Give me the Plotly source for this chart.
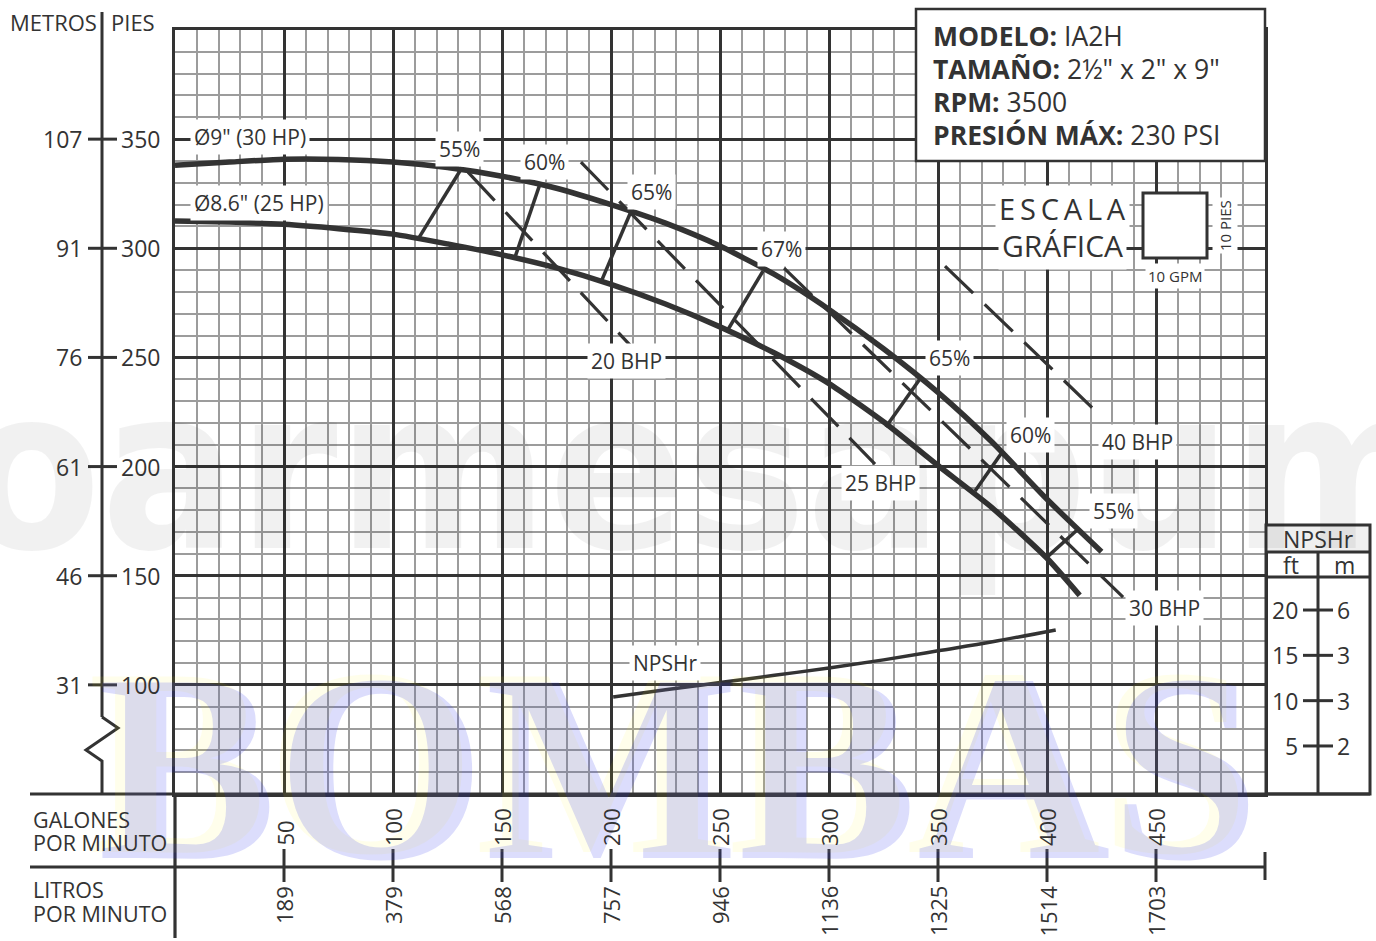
import plotly.graph_objects as go

FONT = "Open Sans, Noto Sans, Arial, sans-serif"
INK = "#333333"

# ---------------- data ----------------
gpm_9 = [0, 25, 50, 75, 100, 125, 150, 175, 200, 225, 250, 275, 300, 325, 350, 375, 400, 425]
head_9 = [338, 339.5, 340.8, 340.7, 339.5, 337, 333, 327.5, 320, 311.5, 301, 288, 272, 254, 234, 211, 185, 161]
gpm_86 = [0, 25, 50, 75, 100, 125, 150, 175, 200, 225, 250, 275, 300, 325, 350, 375, 400, 415]
head_86 = [312.5, 312, 311, 309, 306.5, 302, 297, 291, 283.5, 274.5, 264, 252, 238, 220.5, 200.5, 181, 158, 141]

eff_labels = ["55%", "60%", "65%", "67%", "65%", "60%", "55%"]
eff_q_low = [111.5, 156.0, 195.4, 253.2, 326.1, 367.0, 400.0]
eff_h_low = [304.2, 296.0, 284.5, 262.0, 218.1, 188.8, 158.5]
eff_q_high = [131.7, 167.4, 209.6, 269.7, 341.7, 379.8, 414.2]
eff_h_high = [337.0, 329.4, 317.9, 289.5, 240.1, 207.1, 171.3]
eff_lbl_q = [130.7, 169.7, 218.8, 278.4, 355.5, 392.2, 430.3]
eff_lbl_h = [345.4, 339.5, 325.7, 299.6, 249.7, 214.4, 179.6]

bhp_labels = ["20 BHP", "25 BHP", "30 BHP", "40 BHP"]
bhp_q0 = [134.4, 186.2, 279.4, 353.2]
bhp_h0 = [334.9, 339.5, 290.9, 291.8]
bhp_q1 = [209.6, 321.1, 434.9, 422.9]
bhp_h1 = [254.7, 201.1, 140.2, 224.9]
bhp_lbl_q = [206.9, 323.4, 454.1, 441.7]
bhp_lbl_h = [248.3, 192.4, 135.2, 211.2]

npsh_q = [201, 225, 250, 275, 300, 325, 350, 375, 404]
npsh_ft = [10.4, 11.2, 12.0, 12.8, 13.6, 14.5, 15.5, 16.5, 17.8]
npsh_lbl = ("NPSHr", 224.8, 14.15)

curve_labels = ['Ø9" (30 HP)', 'Ø8.6" (25 HP)']
curve_lbl_q = [7.0, 7.0]
curve_lbl_h = [350.9, 320.7]

head_ticks = [100, 150, 200, 250, 300, 350]
metros_labels = ["31", "46", "61", "76", "91", "107"]
gpm_ticks = [50, 100, 150, 200, 250, 300, 350, 400, 450]
lpm_labels = ["189", "379", "568", "757", "946", "1136", "1325", "1514", "1703"]
npsh_ft_ticks = [5, 10, 15, 20]
npsh_m_labels = ["2", "3", "3", "6"]

info_keys = ["MODELO:", "TAMAÑO:", "RPM:", "PRESIÓN MÁX:"]
info_vals = ["IA2H", '2½" x 2" x 9"', "3500", "230 PSI"]

# ---------------- layout geometry (pixels) ----------------
W, H = 1376, 941
L, R, T, B = 175, 1265, 30, 794


def px(x):
    return (x - L) / (R - L)


def py(y):
    return (B - y) / (B - T)


fig = go.Figure()

# pump curves
fig.add_trace(go.Scatter(x=gpm_9, y=head_9, mode="lines", line=dict(color=INK, width=5.5, shape="spline", smoothing=0.6),
                         hoverinfo="skip", showlegend=False))
fig.add_trace(go.Scatter(x=gpm_86, y=head_86, mode="lines", line=dict(color=INK, width=5.5, shape="spline", smoothing=0.6),
                         hoverinfo="skip", showlegend=False))

# efficiency segments
ex, ey = [], []
for a, b, c, d in zip(eff_q_low, eff_h_low, eff_q_high, eff_h_high):
    ex += [a, c, None]
    ey += [b, d, None]
fig.add_trace(go.Scatter(x=ex, y=ey, mode="lines", line=dict(color=INK, width=3.5), hoverinfo="skip", showlegend=False))

# BHP dashed lines
for q0, h0, q1, h1 in zip(bhp_q0, bhp_h0, bhp_q1, bhp_h1):
    fig.add_trace(go.Scatter(x=[q0, q1], y=[h0, h1], mode="lines",
                             line=dict(color=INK, width=3.2, dash="39px,16px"), hoverinfo="skip", showlegend=False))

# NPSHr curve
fig.add_trace(go.Scatter(x=npsh_q, y=npsh_ft, mode="lines", yaxis="y2",
                         line=dict(color=INK, width=3.5, shape="spline"), hoverinfo="skip", showlegend=False))

shapes = []
annotations = []


def seg(x0, y0, x1, y1, w=3, color=INK):
    shapes.append(dict(type="line", xref="paper", yref="paper", x0=px(x0), y0=py(y0), x1=px(x1), y1=py(y1),
                       line=dict(color=color, width=w), layer="above"))


def ann(text, x, y, xref="paper", yref="paper", size=21, xanchor="center", yanchor="middle",
        bg=None, angle=0, color=INK, family=FONT, pad=1):
    d = dict(text=text, x=x, y=y, xref=xref, yref=yref, showarrow=False, xanchor=xanchor, yanchor=yanchor,
             font=dict(size=size, color=color, family=family), textangle=angle, borderpad=pad)
    if bg:
        d["bgcolor"] = bg
    annotations.append(d)


# ---- watermarks (drawn first) ----
ann("<b>oarmesapumps</b>", px(-40), py(470), size=225, xanchor="left", color="rgba(0,0,0,0.055)",
    family="Liberation Sans Narrow, DejaVu Sans Condensed, Arial Narrow, sans-serif")
ann("<b>BOMBAS</b>", px(669), py(761), size=268, color="rgba(255,240,0,0.08)",
    family="Liberation Serif, DejaVu Serif, serif")
ann("<b>BOMBAS</b>", px(679), py(767), size=268, color="rgba(35,45,235,0.16)",
    family="Liberation Serif, DejaVu Serif, serif")

# ---- left axis ----
seg(102, 12, 102, 717, 3)
shapes.append(dict(type="path", xref="paper", yref="paper",
                   path="M {},{} L {},{} L {},{} L {},{} L {},{}".format(
                       px(102), py(717), px(118), py(728), px(86), py(750), px(102), py(761), px(102), py(794)),
                   line=dict(color=INK, width=3)))
ann("METROS", px(8), py(22), size=22, xanchor="left")
ann("PIES", px(109), py(22), size=22, xanchor="left")
for h, m in zip(head_ticks, metros_labels):
    shapes.append(dict(type="line", xref="paper", yref="y", x0=px(88), x1=px(117), y0=h, y1=h,
                       line=dict(color=INK, width=3)))
    ann(str(h), px(119), h, yref="y", size=23, xanchor="left")
    ann(m, px(84), h, yref="y", size=23, xanchor="right")

# ---- bottom rows ----
seg(30, 794, 1370, 794, 3.2)
seg(30, 867, 1265, 867, 3.2)
seg(175, 794, 175, 938, 3.2)
seg(1265, 852, 1265, 880, 3)
ann("GALONES", px(31), py(819), size=21.5, xanchor="left")
ann("POR MINUTO", px(31), py(842), size=21.5, xanchor="left")
ann("LITROS", px(31), py(890), size=21.5, xanchor="left")
ann("POR MINUTO", px(31), py(913), size=21.5, xanchor="left")
for g, lp in zip(gpm_ticks, lpm_labels):
    shapes.append(dict(type="line", xref="x", yref="paper", x0=g, x1=g, y0=py(849), y1=py(882),
                       line=dict(color=INK, width=3)))
    ann(str(g), g, py(848), xref="x", size=22, yanchor="bottom", angle=-90)
    ann(lp, g, py(884), xref="x", size=22, yanchor="top", angle=-90)

# ---- NPSHr panel ----
shapes.append(dict(type="rect", xref="paper", yref="paper", x0=px(1266), x1=px(1370), y0=py(525), y1=py(552),
                   fillcolor="#efefef", line=dict(width=0)))
shapes.append(dict(type="rect", xref="paper", yref="paper", x0=px(1266), x1=px(1370), y0=py(525), y1=py(794),
                   line=dict(color=INK, width=3)))
seg(1266, 552, 1370, 552, 3)
seg(1266, 577, 1370, 577, 3)
seg(1318, 552, 1318, 794, 3)
ann("NPSHr", px(1318), py(539), size=23)
ann("ft", px(1291), py(565), size=23)
ann("m", px(1344), py(565), size=23)
for f, m in zip(npsh_ft_ticks, npsh_m_labels):
    shapes.append(dict(type="line", xref="paper", yref="y2", x0=px(1303), x1=px(1333), y0=f, y1=f,
                       line=dict(color=INK, width=3)))
    ann(str(f), px(1300), f, yref="y2", size=23, xanchor="right")
    ann(m, px(1335), f, yref="y2", size=23, xanchor="left")

# ---- info box ----
shapes.append(dict(type="rect", xref="paper", yref="paper", x0=px(916), x1=px(1265), y0=py(9), y1=py(161),
                   fillcolor="white", line=dict(color=INK, width=2.5), layer="above"))
for i, (k, v) in enumerate(zip(info_keys, info_vals)):
    ann("<b>{}</b> {}".format(k, v), px(931), py(36 + 33 * i), size=26.5, xanchor="left")

# ---- escala gráfica ----
thin = "\u2009"
ann(thin.join("ESCALA"), px(1062), py(208), size=29, bg="white", pad=3)
ann("GRÁFICA", px(1062), py(246), size=30, bg="white", pad=3)
shapes.append(dict(type="rect", xref="paper", yref="paper", x0=px(1143), x1=px(1207), y0=py(193), y1=py(258),
                   fillcolor="white", line=dict(color=INK, width=3), layer="above"))
ann("10 PIES", px(1225), py(226), size=15, angle=-90, bg="white", pad=2)
ann("10 GPM", px(1175), py(276), size=15, bg="white", pad=2)

# ---- in-chart labels ----
for t, q, h in zip(curve_labels, curve_lbl_q, curve_lbl_h):
    ann(t, q, h, xref="x", yref="y", size=21, xanchor="left", bg="white", pad=3)
for t, q, h in zip(eff_labels, eff_lbl_q, eff_lbl_h):
    ann(t, q, h, xref="x", yref="y", size=21, bg="white", pad=3)
for t, q, h in zip(bhp_labels, bhp_lbl_q, bhp_lbl_h):
    ann(t, q, h, xref="x", yref="y", size=21, bg="white", pad=3)
ann(npsh_lbl[0], npsh_lbl[1], npsh_lbl[2], xref="x", yref="y2", size=21, bg="white", pad=3)

axis_common = dict(showticklabels=False, ticks="", zeroline=False, showline=True, mirror=True,
                   linecolor=INK, linewidth=3, gridcolor=INK, gridwidth=3, fixedrange=True)
fig.update_layout(
    width=W, height=H,
    margin=dict(l=L, r=W - R, t=T, b=H - B, pad=0),
    paper_bgcolor="white", plot_bgcolor="white",
    showlegend=False,
    xaxis=dict(range=[0, 500], dtick=50, tick0=0, showgrid=True,
               minor=dict(dtick=10, tick0=0, showgrid=True, gridcolor="#9c9c9c", gridwidth=1.8), **axis_common),
    yaxis=dict(range=[50, 400], dtick=50, tick0=0, showgrid=True,
               minor=dict(dtick=10, tick0=0, showgrid=True, gridcolor="#9c9c9c", gridwidth=1.8), **axis_common),
    yaxis2=dict(range=[-0.3, 84], overlaying="y", visible=False, fixedrange=True),
    shapes=shapes,
    annotations=annotations,
)

fig.write_html("out.html", config={"displayModeBar": False},
               post_script="document.body.style.margin='0px';document.body.style.overflow='hidden';")
